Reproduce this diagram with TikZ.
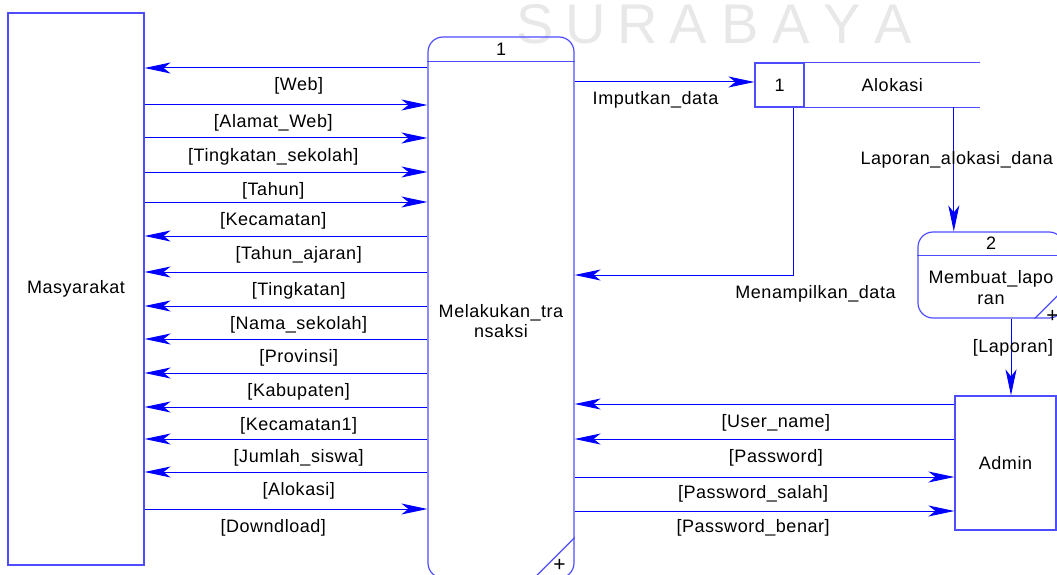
\documentclass[tikz,border=0pt]{standalone}
\usepackage{fontspec}
\setmainfont{Liberation Sans}[LetterSpace=3.0]
\usetikzlibrary{arrows.meta, positioning}
\definecolor{FlowBlue}{HTML}{0000FF}
\definecolor{BoxBlue}{HTML}{4D4DFF}
\definecolor{MarkGray}{HTML}{E8E8E8}

\begin{document}
\begin{tikzpicture}[x=1pt, y=-1pt,
    txt/.style={font=\fontsize{18}{20.5}\selectfont, text=black, inner sep=1pt, align=center},
    entity/.style={txt, rectangle, draw=BoxBlue, line width=1.2pt, inner sep=0pt},
    proc/.style={rectangle, rounded corners=15pt, draw=BoxBlue, line width=1.2pt,
                 minimum width=146pt, inner sep=0pt},
    procline/.style={draw=BoxBlue, line width=1.2pt},
    store/.style={txt, rectangle, draw=BoxBlue, line width=1.2pt, minimum height=44pt, inner sep=0pt},
    storename/.style={txt, rectangle, minimum height=44pt, inner sep=0pt},
    flow/.style={draw=FlowBlue, line width=1pt, -{Stealth[length=26pt, width=11pt, inset=7pt]}},
    flowlabel/.style={txt, anchor=base, yshift=-23pt},
    wmark/.style={font=\fontsize{56}{56}\selectfont, text=MarkGray, anchor=base, inner sep=0pt}
]
    \clip (0,0) rectangle (1057,575);

    % Watermark
    \foreach \ch [count=\i from 0] in {S,U,R,A,B,A,Y,A}
        \node[wmark] (wm\i) at (535+51.2*\i, 44) {\ch};

    % External entities
    \node[entity, minimum width=136pt, minimum height=552pt] (mas) at (76,289) {Masyarakat};
    \node[entity, minimum width=101pt, minimum height=134pt] (adm) at (1005.5,463) {Admin};

    % Process 1
    \node[proc, minimum height=541pt] (p1) at (501,307.5) {};
    \draw[procline] ([yshift=-25pt]p1.north west) -- ([yshift=-25pt]p1.north east);
    \node[txt] (p1num) at ([yshift=-13pt]p1.north) {1};
    \node[txt] (p1name) at ([yshift=-13.5pt]p1.center) {Melakukan\_tra\\nsaksi};
    \draw[procline] ([yshift=41pt]p1.south east) -- ([xshift=-41pt]p1.south east);
    \node[txt, font=\fontsize{21}{21}\selectfont] (p1plus) at ([xshift=-15pt, yshift=13pt]p1.south east) {+};

    % Process 2
    \node[proc, minimum height=86pt] (p2) at (991,275) {};
    \draw[procline] ([yshift=-24pt]p2.north west) -- ([yshift=-24pt]p2.north east);
    \node[txt] (p2num) at ([yshift=-12pt]p2.north) {2};
    \node[txt] (p2name) at ([yshift=-12.5pt]p2.center) {Membuat\_lapo\\ran};
    \draw[procline] ([xshift=-30pt]p2.south east) -- ([yshift=30pt]p2.south east);
    \node[txt, font=\fontsize{21}{21}\selectfont] (p2plus) at ([xshift=-12pt, yshift=2pt]p2.south east) {+};

    % Data store
    \node[store, minimum width=49pt] (dsid) at (779.5,85) {1};
    \node[storename, minimum width=175pt, right=0pt of dsid] (ds) {Alokasi};
    \draw[procline] (ds.north west) -- (ds.north east) (ds.south west) -- (ds.south east);

    % Flows between Masyarakat and process 1
    \draw[flow] (p1.west |- 0,68) -- node[flowlabel, pos=0.455] (f1) {[Web]} (mas.east |- 0,68);
    \draw[flow] (mas.east |- 0,105) -- node[flowlabel, pos=0.455] (f2) {[Alamat\_Web]} (p1.west |- 0,105);
    \draw[flow] (mas.east |- 0,138) -- node[flowlabel, pos=0.455] (f3) {[Tingkatan\_sekolah]} (p1.west |- 0,138);
    \draw[flow] (mas.east |- 0,172) -- node[flowlabel, pos=0.455] (f4) {[Tahun]} (p1.west |- 0,172);
    \draw[flow] (mas.east |- 0,202) -- node[flowlabel, pos=0.455] (f5) {[Kecamatan]} (p1.west |- 0,202);
    \draw[flow] (p1.west |- 0,236) -- node[flowlabel, pos=0.455] (f6) {[Tahun\_ajaran]} (mas.east |- 0,236);
    \draw[flow] (p1.west |- 0,272) -- node[flowlabel, pos=0.455] (f7) {[Tingkatan]} (mas.east |- 0,272);
    \draw[flow] (p1.west |- 0,306) -- node[flowlabel, pos=0.455] (f8) {[Nama\_sekolah]} (mas.east |- 0,306);
    \draw[flow] (p1.west |- 0,339) -- node[flowlabel, pos=0.455] (f9) {[Provinsi]} (mas.east |- 0,339);
    \draw[flow] (p1.west |- 0,373) -- node[flowlabel, pos=0.455] (f10) {[Kabupaten]} (mas.east |- 0,373);
    \draw[flow] (p1.west |- 0,407) -- node[flowlabel, pos=0.455] (f11) {[Kecamatan1]} (mas.east |- 0,407);
    \draw[flow] (p1.west |- 0,439) -- node[flowlabel, pos=0.455] (f12) {[Jumlah\_siswa]} (mas.east |- 0,439);
    \draw[flow] (p1.west |- 0,472) -- node[flowlabel, pos=0.455] (f13) {[Alokasi]} (mas.east |- 0,472);
    \draw[flow] (mas.east |- 0,509) -- node[flowlabel, pos=0.455] (f14) {[Downdload]} (p1.west |- 0,509);

    % Flows with the data store and process 2
    \draw[flow] (p1.east |- 0,82) -- node[flowlabel, pos=0.45] (g1) {Imputkan\_data} (dsid.west |- 0,82);
    \draw[flow] ([xshift=14pt]dsid.south) |- node[flowlabel, pos=0.5, xshift=22pt] (g2) {Menampilkan\_data} (p1.east |- 0,275);
    \draw[flow] ([xshift=61.5pt]ds.south) -- node[txt, pos=0.42, xshift=3pt] (g3) {Laporan\_alokasi\_dana} ([xshift=61.5pt]ds.south |- p2.north);
    \draw[flow] ([xshift=20pt]p2.south) -- node[txt, pos=0.385, xshift=2pt] (g4) {[Laporan]} ([xshift=20pt]p2.south |- adm.north);

    % Flows between Admin and process 1
    \draw[flow] (adm.west |- 0,404) -- node[flowlabel, pos=0.47] (h1) {[User\_name]} (p1.east |- 0,404);
    \draw[flow] (adm.west |- 0,439) -- node[flowlabel, pos=0.47] (h2) {[Password]} (p1.east |- 0,439);
    \draw[flow] (p1.east |- 0,477) -- node[flowlabel, pos=0.47, yshift=2pt] (h3) {[Password\_salah]} (adm.west |- 0,477);
    \draw[flow] (p1.east |- 0,511) -- node[flowlabel, pos=0.47, yshift=2pt] (h4) {[Password\_benar]} (adm.west |- 0,511);
\end{tikzpicture}
\end{document}
